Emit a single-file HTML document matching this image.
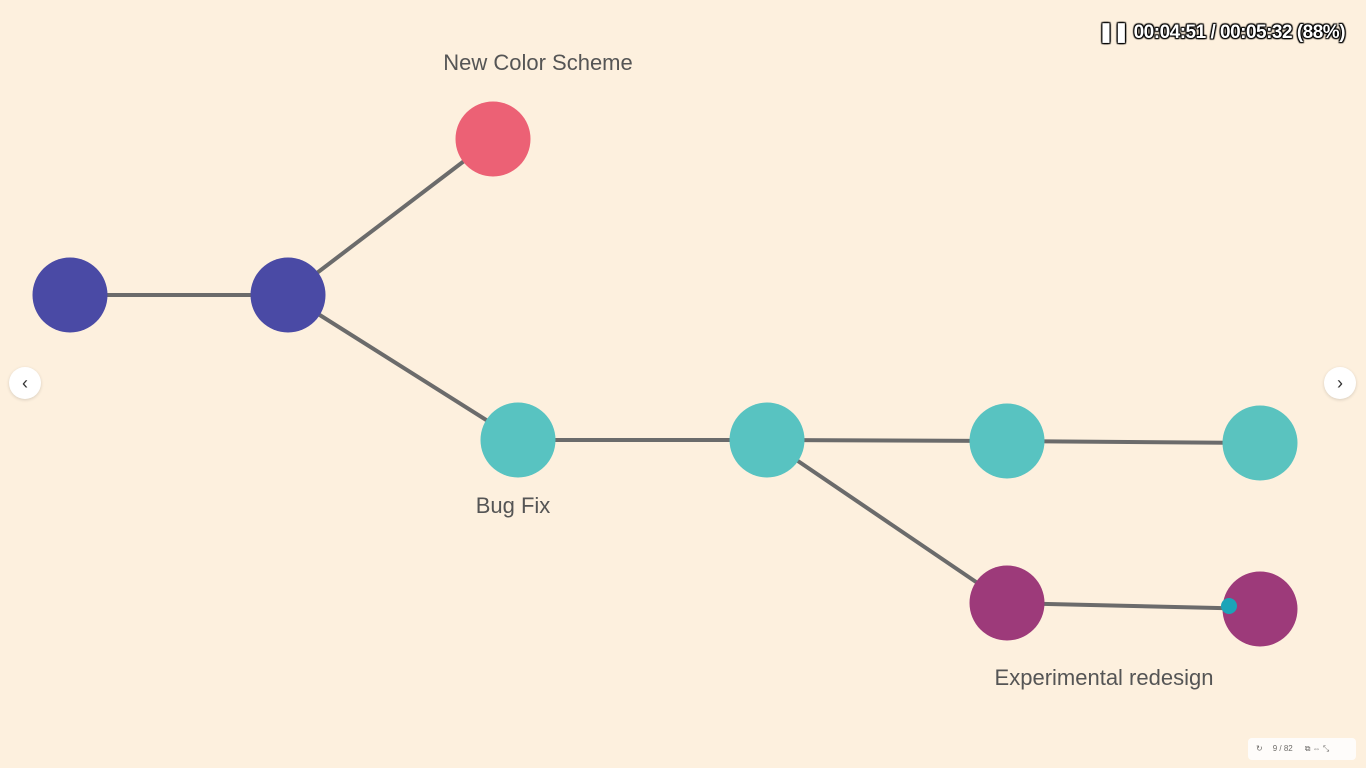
<!DOCTYPE html>
<html><head><meta charset="utf-8"><style>
html,body{margin:0;padding:0;width:1366px;height:768px;overflow:hidden;background:#fdf0de;font-family:"Liberation Sans",sans-serif}
.timer{position:absolute;left:1098px;top:21px;font-size:19px;font-weight:bold;color:#fff;-webkit-text-stroke:0;text-shadow:0 0 2px #000,0 0 2px #000,1px 1px 1px #000,-1px -1px 1px #000,1px -1px 1px #000,-1px 1px 1px #000;letter-spacing:-0.5px}
.nav{position:absolute;top:367px;width:32px;height:32px;border-radius:50%;background:#fff;box-shadow:0 1px 3px rgba(0,0,0,.15);font-size:18px;line-height:32px;text-align:center;color:#333}
.ctrl{position:absolute;left:1248px;top:738px;width:108px;height:22px;background:#fff;border-radius:4px;font-size:8px;color:#555;line-height:22px;opacity:.85}
</style></head><body>
<svg id="chart" width="1366" height="768" style="position:absolute;left:0;top:0"></svg>
<div class="timer">❚❚ 00:04:51 / 00:05:32 (88%)</div>
<div class="nav" style="left:9px">‹</div>
<div class="nav" style="left:1324px">›</div>
<div class="ctrl"><span style="margin-left:8px">↻</span><span style="margin-left:10px">9 / 82</span><span style="margin-left:12px">⧉ ⇔ ⤡</span></div>
<script>
const nodeX=[70,288,493,518,767,1007,1260,1007,1260];
const nodeY=[295,295,139,440,440,441,443,603,609];
const nodeColor=["#4a4aa5","#4a4aa5","#ec6175","#58c3c1","#58c3c1","#58c3c1","#5ac3bf","#9d3a7a","#9d3a7a"];
const edgeFrom=[0,1,1,3,4,5,4,7];
const edgeTo=[1,2,3,4,5,6,7,8];
const labels=["New Color Scheme","Bug Fix","Experimental redesign"];
const labelX=[538,513,1104];
const labelY=[70,513,685];
const svg=document.getElementById('chart');
const NS='http://www.w3.org/2000/svg';
for(let i=0;i<edgeFrom.length;i++){
  const l=document.createElementNS(NS,'line');
  l.setAttribute('x1',nodeX[edgeFrom[i]]);l.setAttribute('y1',nodeY[edgeFrom[i]]);
  l.setAttribute('x2',nodeX[edgeTo[i]]);l.setAttribute('y2',nodeY[edgeTo[i]]);
  l.setAttribute('stroke','#6b6b6b');l.setAttribute('stroke-width','4');
  
  
  svg.appendChild(l);
}
for(let i=0;i<nodeX.length;i++){
  const c=document.createElementNS(NS,'circle');
  c.setAttribute('cx',nodeX[i]);c.setAttribute('cy',nodeY[i]);c.setAttribute('r',37.5);
  c.setAttribute('fill',nodeColor[i]);
  
  
  svg.appendChild(c);
}
const d=document.createElementNS(NS,'circle');
d.setAttribute('cx',1229);d.setAttribute('cy',606);d.setAttribute('r',8);d.setAttribute('fill','#1ba4b8');


svg.appendChild(d);
for(let i=0;i<labels.length;i++){
  const t=document.createElementNS(NS,'text');
  t.setAttribute('x',labelX[i]);t.setAttribute('y',labelY[i]);
  t.setAttribute('text-anchor','middle');t.setAttribute('font-size','22');
  t.setAttribute('font-family','Liberation Sans, sans-serif');t.setAttribute('fill','#555');
  t.textContent=labels[i];
  
  
  svg.appendChild(t);
}
</script>
</body></html>
